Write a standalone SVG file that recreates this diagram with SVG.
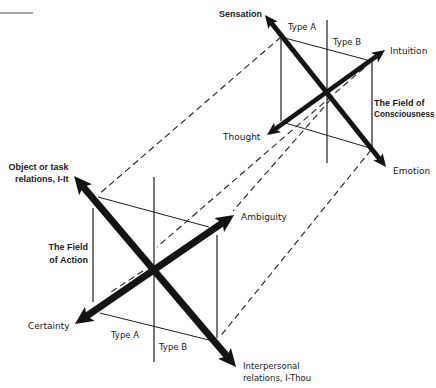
<svg xmlns="http://www.w3.org/2000/svg" width="436" height="388" viewBox="0 0 436 388">
  <style>
    .thin { stroke: #1e1e1e; stroke-width: 1; fill: none; }
    .vert { stroke: #1e1e1e; stroke-width: 1.2; fill: none; }
    .dash { stroke: #222222; stroke-width: 1.1; fill: none; stroke-dasharray: 6.5 4; }
    .axs { stroke: #141414; stroke-width: 5; fill: none; marker-start: url(#hs); marker-end: url(#hs); }
    .axl { stroke: #141414; stroke-width: 7; fill: none; marker-start: url(#hl); marker-end: url(#hl); }
    .lbl { font-family: "DejaVu Sans", "Liberation Sans", sans-serif; font-size: 9px; fill: #1a1a1a; }
    .bld { font-family: "Liberation Sans", Arial, sans-serif; font-size: 9px; font-weight: bold; fill: #1a1a1a; }
  </style>
  <defs>
    <marker id="hs" viewBox="0 0 13 12" refX="3" refY="6" markerWidth="13" markerHeight="12" markerUnits="userSpaceOnUse" orient="auto-start-reverse">
      <path d="M0,0 L13,6 L0,12 L3,6 z" fill="#141414"/>
    </marker>
    <marker id="hl" viewBox="0 0 18 17" refX="4" refY="8.5" markerWidth="18" markerHeight="17" markerUnits="userSpaceOnUse" orient="auto-start-reverse">
      <path d="M0,0 L18,8.5 L0,17 L4,8.5 z" fill="#141414"/>
    </marker>
  </defs>
  <rect width="436" height="388" fill="#ffffff"/>
  <line x1="0" y1="13" x2="33" y2="13" stroke="#858585" stroke-width="1.5"/>

  <g id="connectors">
    <line class="dash" x1="281" y1="37" x2="98" y2="195"/>
    <line class="dash" x1="364" y1="68" x2="157" y2="247"/>
    <line class="dash" x1="143" y1="271" x2="108" y2="294"/>
    <line class="dash" x1="331" y1="99" x2="233" y2="211"/>
    <line class="dash" x1="371" y1="150" x2="219" y2="338"/>
  </g>

  <g id="field-of-consciousness">
    <line class="vert" x1="327" y1="20" x2="327" y2="163"/>
    <line class="vert" x1="281" y1="37" x2="281" y2="121"/>
    <line class="vert" x1="372" y1="60" x2="372" y2="148"/>
    <line class="thin" x1="281" y1="37" x2="371" y2="61"/>
    <line class="thin" x1="282" y1="122" x2="370" y2="148"/>
    <line class="axs" x1="271.2" y1="22.8" x2="379.8" y2="159.2"/>
    <line class="axs" x1="376.9" y1="55.8" x2="275.1" y2="129.2" style="stroke-width:4.5"/>
  </g>

  <g id="field-of-action">
    <line class="vert" x1="154" y1="177" x2="154" y2="362"/>
    <line class="vert" x1="93" y1="208" x2="93" y2="302"/>
    <line class="vert" x1="217" y1="235" x2="217" y2="338"/>
    <line class="thin" x1="98" y1="197" x2="209" y2="227"/>
    <line class="thin" x1="100" y1="313" x2="209" y2="340"/>
    <line class="axl" x1="83.1" y1="186.7" x2="227.0" y2="356.3"/>
    <line class="axl" x1="222.5" y1="222.9" x2="86.5" y2="316.1"/>
  </g>

  <g id="label-sensation"><text class="bld" x="262" y="17" text-anchor="end">Sensation</text></g>
  <g id="label-typeA-top"><text class="lbl" x="288" y="29.5" style="font-size:8.5px">Type A</text></g>
  <g id="label-typeB-top"><text class="lbl" x="333" y="44.5" style="font-size:8.5px">Type B</text></g>
  <g id="label-intuition"><text class="lbl" x="390" y="54">Intuition</text></g>
  <g id="label-field-consciousness">
    <text class="bld" x="374" y="106">The Field of</text>
    <text class="bld" x="374" y="117" style="font-size:8.2px">Consciousness</text>
  </g>
  <g id="label-thought"><text class="lbl" x="223" y="140">Thought</text></g>
  <g id="label-emotion"><text class="lbl" x="393" y="174">Emotion</text></g>

  <g id="label-object">
    <text class="bld" x="68.5" y="170" text-anchor="end">Object or task</text>
    <text class="bld" x="68.5" y="182" text-anchor="end">relations, I-It</text>
  </g>
  <g id="label-field-action">
    <text class="bld" x="88" y="250" text-anchor="end">The Field</text>
    <text class="bld" x="88" y="262.5" text-anchor="end">of Action</text>
  </g>
  <g id="label-ambiguity"><text class="lbl" x="241" y="220">Ambiguity</text></g>
  <g id="label-certainty"><text class="lbl" x="28" y="329">Certainty</text></g>
  <g id="label-typeA-bottom"><text class="lbl" x="111" y="337.5" style="font-size:8.5px">Type A</text></g>
  <g id="label-typeB-bottom"><text class="lbl" x="159" y="350" style="font-size:8.5px">Type B</text></g>
  <g id="label-interpersonal">
    <text class="lbl" x="243" y="369" style="font-size:8.5px">Interpersonal</text>
    <text class="lbl" x="243" y="380.5" style="font-size:8.5px">relations, I-Thou</text>
  </g>
</svg>
